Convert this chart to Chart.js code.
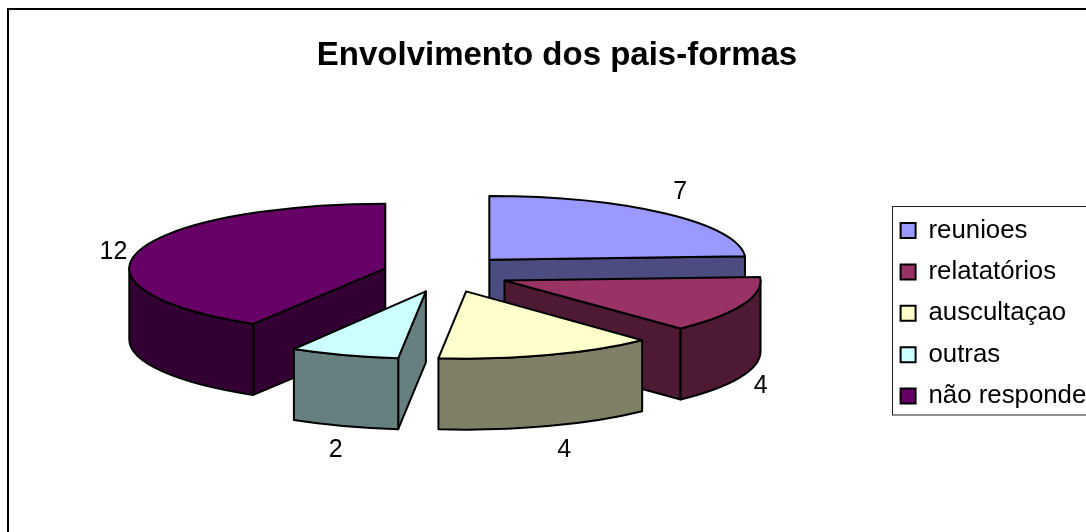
<!DOCTYPE html>
<html>
<head>
<meta charset="utf-8">
<style>
html,body{margin:0;padding:0;background:#fff;width:1086px;height:532px;overflow:hidden}
canvas{display:block}
</style>
<script src="https://cdn.jsdelivr.net/npm/chart.js@4/dist/chart.umd.js"></script>
</head>
<body>
<canvas id="c" width="1114" height="532"></canvas>
<script>
const categories = ['reunioes','relatatórios','auscultaçao','outras','não responde'];
const values = [7,4,4,2,12];
const topColors = ['#9999FF','#993366','#FFFFCC','#CCFFFF','#660066'];
const sideColors = ['#4C4C80','#4D1933','#808066','#668080','#330033'];
const titleText = 'Envolvimento dos pais-formas';

const FONT = '"Liberation Sans", Arial, sans-serif';
const SQUASH_OFFSET = 0.3, EXPLODE = 63, DEPTH = 71, EDGE = 2;

// Back-to-front painting: wedges nearer the viewer are drawn last.
Chart.PieController.prototype.draw = function () {
  const ctx = this.chart.ctx, area = this.chart.chartArea;
  const key = a => Math.sin((a.startAngle + a.endAngle) / 2);
  [...this._cachedMeta.data].sort((p, q) => key(p) - key(q)).forEach(a => a.draw(ctx, area));
};

// Extrude every library-computed arc into an exploded 3D wedge.
const baseDraw = Chart.ArcElement.prototype.draw;
Chart.ArcElement.prototype.draw = function (ctx) {
  const s = this.startAngle, e = this.endAngle, R = this.outerRadius;
  const mid = (s + e) / 2;
  const k = 0.255 + 0.008 * Math.sin(mid);   // slight perspective: nearer wedges look taller
  const cx = this.x + Math.cos(mid) * EXPLODE;
  const cy = this.y + Math.sin(mid) * EXPLODE * SQUASH_OFFSET;
  const rim = a => [cx + Math.cos(a) * R, cy + Math.sin(a) * R * k];
  const side = sideColors[topColors.indexOf(this.options.backgroundColor)];

  ctx.save();
  ctx.lineJoin = 'round';
  ctx.lineWidth = EDGE;
  ctx.strokeStyle = '#000';
  ctx.fillStyle = side;

  const wall = a => {
    const p = rim(a);
    ctx.beginPath();
    ctx.moveTo(cx, cy);
    ctx.lineTo(p[0], p[1]);
    ctx.lineTo(p[0], p[1] + DEPTH);
    ctx.lineTo(cx, cy + DEPTH);
    ctx.closePath();
    ctx.fill();
    ctx.stroke();
  };
  if (-Math.cos(s) > 1e-6) wall(s);
  if (Math.cos(e) > 1e-6) wall(e);

  // outer rim wall, only the part facing the viewer
  const a0 = Math.max(s, 0), a1 = Math.min(e, Math.PI);
  if (a1 > a0) {
    ctx.beginPath();
    ctx.ellipse(cx, cy, R, R * k, 0, a0, a1, false);
    ctx.ellipse(cx, cy + DEPTH, R, R * k, 0, a1, a0, true);
    ctx.closePath();
    ctx.fill();
    ctx.stroke();
  }

  // top face, filled by the library's own arc
  ctx.save();
  ctx.translate(cx, cy);
  ctx.scale(1, k);
  ctx.translate(-this.x, -this.y);
  baseDraw.call(this, ctx);
  ctx.restore();

  ctx.beginPath();
  ctx.moveTo(cx, cy);
  ctx.ellipse(cx, cy, R, R * k, 0, s, e, false);
  ctx.closePath();
  ctx.stroke();
  ctx.restore();
};

const framePlugin = {
  id: 'frame',
  afterLayout(chart) {
    const lg = chart.legend;
    lg.left = 885; lg.right = 1114; lg.width = lg.right - lg.left;
    lg.top = 202; lg.bottom = 532; lg.height = lg.bottom - lg.top;
    const a = chart.chartArea;
    a.left = 0; a.right = 892; a.width = 892;
    a.top = 73.5; a.bottom = 473.5; a.height = 400;
  },
  beforeDraw(chart) {
    const ctx = chart.ctx;
    ctx.save();
    ctx.fillStyle = '#fff';
    ctx.fillRect(0, 0, chart.width, chart.height);
    ctx.strokeStyle = '#000';
    ctx.lineWidth = 2;
    ctx.strokeRect(8, 9, 1200, 700);
    ctx.lineWidth = 1;
    ctx.strokeStyle = '#222';
    ctx.strokeRect(892.5, 206.5, 400, 208.5);
    ctx.restore();
  }
};

const labelPlugin = {
  id: 'sliceLabels',
  afterDatasetsDraw(chart) {
    const ctx = chart.ctx;
    const arcs = chart.getDatasetMeta(0).data;
    const nudge = [[-3, 2], [-6, 28], [8, 3], [0, 3], [0, -8]];
    ctx.save();
    ctx.fillStyle = '#000';
    ctx.font = '25px ' + FONT;
    ctx.textAlign = 'center';
    ctx.textBaseline = 'middle';
    arcs.forEach((arc, i) => {
      const mid = (arc.startAngle + arc.endAngle) / 2;
      const R = arc.outerRadius;
      const x = arc.x + Math.cos(mid) * R * 1.348 + nudge[i][0];
      const y = arc.y + R * 0.11 + Math.sin(mid) * R * 0.6 + nudge[i][1];
      ctx.fillText(String(values[i]), x, y);
    });
    ctx.restore();
  }
};

const defaultLabels = Chart.overrides.pie.plugins.legend.labels.generateLabels;

new Chart(document.getElementById('c'), {
  type: 'pie',
  data: {
    labels: categories,
    datasets: [{
      data: values,
      backgroundColor: topColors,
      borderWidth: 0,
      radius: 256
    }]
  },
  options: {
    responsive: false,
    animation: false,
    events: [],
    plugins: {
      tooltip: { enabled: false },
      title: {
        display: true,
        text: titleText,
        color: '#000',
        font: { family: FONT, size: 33, weight: 'bold', lineHeight: 1.2 },
        padding: { top: 36, bottom: 0 }
      },
      legend: {
        position: 'right',
        align: 'start',
        labels: {
          color: '#000',
          boxWidth: 15,
          boxHeight: 15,
          padding: 15.6,
          font: { family: FONT, size: 25.8, lineHeight: 1 },
          generateLabels: c => defaultLabels(c).map(l => Object.assign(l, { lineWidth: 2, strokeStyle: '#000' }))
        }
      }
    }
  },
  plugins: [framePlugin, labelPlugin]
});
</script>
</body>
</html>
